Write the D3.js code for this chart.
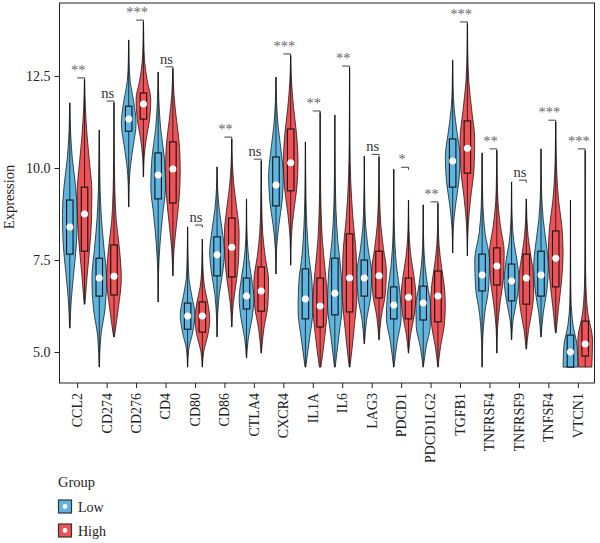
<!DOCTYPE html>
<html>
<head>
<meta charset="utf-8">
<script src="https://cdn.jsdelivr.net/npm/d3@7"></script>
<style>
  body { margin: 0; background: #fff; }
  text { font-family: "Liberation Serif", "Times New Roman", serif; }
</style>
</head>
<body>
<div id="chart"></div>
<script>
const genes = ["CCL2","CD274","CD276","CD4","CD80","CD86","CTLA4","CXCR4","IL1A","IL6",
  "LAG3","PDCD1","PDCD1LG2","TGFB1","TNFRSF4","TNFRSF9","TNFSF4","VTCN1"];
const sigLabels = ["**","ns","***","ns","ns","**","ns","***","**","**","ns","*","**","***","**","ns","***","***"];
const groups = ["Low","High"];
const yTicks = [5.0, 7.5, 10.0, 12.5];

// Low group: min, q1, median, q3, max
const lowMin    = [5.65,4.59,8.94,6.36,4.59,5.41,4.84,7.12,4.59,4.59,5.22,4.59,4.59,7.69,4.59,5.33,5.41,4.59];
const lowQ1     = [7.66,6.52,11.00,9.16,5.62,7.07,6.17,8.97,5.90,6.01,6.52,5.90,5.87,9.48,6.66,6.39,6.52,4.59];
const lowMedian = [8.40,7.01,11.33,9.81,5.98,7.64,6.52,9.54,6.44,6.60,7.01,6.28,6.33,10.19,7.09,6.93,7.09,5.00];
const lowQ3     = [9.13,7.55,11.68,10.41,6.33,8.13,7.01,10.30,7.26,7.55,7.50,6.77,6.79,10.79,7.66,7.39,7.74,5.46];
const lowMax    = [11.77,11.03,13.48,12.61,8.40,10.03,9.16,12.47,10.71,11.44,10.32,9.97,9.00,12.93,10.41,9.62,10.52,9.13];
// relative density, evenly spaced from min to max
const lowDensity = [
  [0.03,0.2,0.55,0.9,1.0,0.8,0.35,0.1,0.02],
  [0.02,0.2,0.8,1.0,0.65,0.3,0.12,0.05,0.02],
  [0.02,0.06,0.25,0.65,1.0,0.7,0.2,0.05,0.01],
  [0.01,0.05,0.25,0.6,1.0,0.85,0.35,0.1,0.01],
  [0.01,0.15,0.7,1.0,0.6,0.2,0.08,0.03,0.01],
  [0.01,0.08,0.3,0.75,1.0,0.7,0.3,0.08,0.01],
  [0.02,0.25,0.75,1.0,0.7,0.3,0.1,0.03,0.01],
  [0.01,0.08,0.4,0.85,1.0,0.7,0.3,0.08,0.01],
  [0.05,0.55,1.0,0.9,0.45,0.2,0.08,0.03,0.01],
  [0.05,0.55,1.0,0.85,0.4,0.15,0.06,0.02,0.01],
  [0.02,0.3,0.85,1.0,0.55,0.2,0.07,0.02,0.01],
  [0.02,0.45,1.0,0.85,0.4,0.15,0.05,0.02,0.01],
  [0.02,0.4,0.95,1.0,0.6,0.25,0.08,0.02,0.01],
  [0.01,0.08,0.4,0.85,1.0,0.6,0.2,0.05,0.01],
  [0.01,0.08,0.35,0.9,1.0,0.4,0.12,0.04,0.01],
  [0.02,0.2,0.7,1.0,0.75,0.3,0.1,0.03,0.01],
  [0.02,0.3,0.8,1.0,0.7,0.3,0.1,0.03,0.01],
  [1.0,0.9,0.35,0.1,0.04,0.02,0.01,0.01,0.005]
];

// High group
const highMin    = [6.30,5.41,9.76,7.07,4.59,5.68,4.97,7.36,4.59,4.59,5.33,4.97,4.59,7.61,4.97,5.08,5.52,4.59];
const highQ1     = [7.74,6.55,11.33,9.05,5.54,7.04,6.11,9.38,5.68,6.09,6.47,5.90,5.82,9.86,6.82,6.30,6.77,4.89];
const highMedian = [8.75,7.06,11.74,9.97,5.98,7.85,6.66,10.14,6.25,7.01,7.07,6.49,6.52,10.54,7.34,7.01,7.55,5.22];
const highQ3     = [9.48,7.91,12.04,10.71,6.36,8.64,7.31,11.06,7.01,8.21,7.74,7.01,7.20,11.28,7.83,7.66,8.29,5.84];
const highMax    = [12.40,11.77,13.97,12.70,8.07,10.79,10.19,13.05,11.50,12.72,10.30,9.13,9.03,13.92,10.47,9.16,11.25,10.47];
const highDensity = [
  [0.05,0.35,0.7,0.95,1.0,0.7,0.35,0.12,0.02],
  [0.05,0.6,1.0,0.75,0.3,0.12,0.05,0.02,0.01],
  [0.02,0.1,0.4,0.85,1.0,0.5,0.15,0.05,0.01],
  [0.02,0.15,0.5,0.85,1.0,0.9,0.5,0.15,0.02],
  [0.01,0.2,0.75,1.0,0.75,0.3,0.1,0.04,0.01],
  [0.02,0.2,0.65,0.95,1.0,0.7,0.3,0.08,0.01],
  [0.02,0.35,0.9,1.0,0.55,0.2,0.08,0.03,0.01],
  [0.01,0.08,0.4,0.85,1.0,0.8,0.4,0.12,0.01],
  [0.1,0.65,1.0,0.7,0.3,0.12,0.05,0.02,0.01],
  [0.05,0.6,1.0,0.9,0.45,0.15,0.05,0.02,0.01],
  [0.02,0.3,0.85,1.0,0.6,0.25,0.1,0.03,0.01],
  [0.02,0.3,0.8,1.0,0.75,0.35,0.12,0.04,0.01],
  [0.02,0.35,0.85,1.0,0.85,0.45,0.15,0.04,0.01],
  [0.01,0.1,0.45,0.9,1.0,0.6,0.2,0.05,0.01],
  [0.01,0.1,0.45,0.9,1.0,0.5,0.15,0.05,0.01],
  [0.03,0.3,0.75,1.0,0.95,0.6,0.25,0.08,0.01],
  [0.05,0.4,0.8,1.0,0.85,0.4,0.15,0.05,0.01],
  [0.9,1.0,0.35,0.1,0.04,0.02,0.01,0.01,0.005]
];

const colors = { Low: "#5DB5E0", High: "#EF5257" };

const width = 600, height = 543;
const plot = { left: 59.5, right: 595.5, top: 3, bottom: 383 };

const svg = d3.select("#chart").append("svg")
  .attr("width", width)
  .attr("height", height);

const x = d3.scalePoint()
  .domain(genes)
  .range([plot.left, plot.right])
  .padding(0.6);

const y = d3.scaleLinear()
  .domain([4.158, 14.484])
  .range([plot.bottom, plot.top]);

const dodge = d3.scaleBand()
  .domain(groups)
  .range([-x.step() * 0.5, x.step() * 0.5]);

const half = dodge.bandwidth() / 2;
const boxW = 6.5;

// build records
const records = [];
genes.forEach((g, i) => {
  records.push({ gene: g, group: "Low", min: lowMin[i], q1: lowQ1[i], med: lowMedian[i], q3: lowQ3[i], max: lowMax[i], dens: lowDensity[i] });
  records.push({ gene: g, group: "High", min: highMin[i], q1: highQ1[i], med: highMedian[i], q3: highQ3[i], max: highMax[i], dens: highDensity[i] });
});
const cx = d => x(d.gene) + dodge(d.group) + half;

// violins
const area = d3.area()
  .curve(d3.curveMonotoneY)
  .y(p => y(p.v))
  .x0(p => p.cx - p.w * half)
  .x1(p => p.cx + p.w * half);

svg.append("g").attr("class", "violins")
  .selectAll("path")
  .data(records)
  .enter()
  .append("path")
  .attr("fill", d => colors[d.group])
  .attr("stroke", "#111")
  .attr("stroke-width", 0.75)
  .attr("d", d => {
    const n = d.dens.length;
    const pts = d.dens.map((w, k) => ({ v: d.min + k * (d.max - d.min) / (n - 1), w: w, cx: cx(d) }));
    return area(pts.reverse());
  });

// boxes
const boxes = svg.append("g").attr("class", "boxes");
boxes.selectAll(".whisker")
  .data(records)
  .enter()
  .append("line")
  .attr("class", "whisker")
  .attr("x1", cx).attr("x2", cx)
  .attr("y1", d => y(d.max)).attr("y2", d => y(d.min))
  .attr("stroke", "#111")
  .attr("stroke-width", 0.8);

boxes.selectAll("rect")
  .data(records)
  .enter()
  .append("rect")
  .attr("x", d => cx(d) - boxW / 2)
  .attr("width", boxW)
  .attr("y", d => y(d.q3))
  .attr("height", d => y(d.q1) - y(d.q3))
  .attr("fill", d => colors[d.group])
  .attr("stroke", "#111")
  .attr("stroke-width", 1.1);

boxes.selectAll(".median")
  .data(records)
  .enter()
  .append("circle")
  .attr("class", "median")
  .attr("cx", cx)
  .attr("cy", d => y(d.med))
  .attr("r", 3.5)
  .attr("fill", "#fff");

// significance
const sig = svg.append("g").attr("class", "sig");
genes.forEach((g, i) => {
  const top = Math.max(lowMax[i], highMax[i]) + 0.05;
  const xc = x(g);
  const xh = x(g) + dodge("High") + half;
  const yb = y(top);
  sig.append("path")
    .attr("d", `M${xc},${yb}H${xh}V${yb + 2.5}`)
    .attr("fill", "none")
    .attr("stroke", "#111")
    .attr("stroke-width", 0.8);
  sig.append("text")
    .attr("x", xc + 1)
    .attr("y", yb - 3)
    .attr("text-anchor", "middle")
    .attr("font-size", "14.5px")
    .attr("fill", sigLabels[i] === "ns" ? "#333" : "#666")
    .text(sigLabels[i]);
});

// panel border
svg.append("rect")
  .attr("x", plot.left)
  .attr("y", plot.top)
  .attr("width", plot.right - plot.left - 1)
  .attr("height", plot.bottom - plot.top)
  .attr("fill", "none")
  .attr("stroke", "#222")
  .attr("stroke-width", 1);

// y axis
const yAxis = svg.append("g")
  .attr("transform", `translate(${plot.left},0)`)
  .call(d3.axisLeft(y).tickValues(yTicks).tickFormat(d3.format(".1f")).tickSize(5).tickPadding(4));
yAxis.select(".domain").remove();
yAxis.selectAll("text").attr("font-size", "14px").attr("fill", "#222")
  .style("font-family", "'Liberation Serif', serif");
yAxis.selectAll("line").attr("stroke", "#222");

// x axis
const xAxis = svg.append("g")
  .attr("transform", `translate(0,${plot.bottom})`)
  .call(d3.axisBottom(x).tickSize(5).tickFormat(""));
xAxis.select(".domain").remove();
xAxis.selectAll("line").attr("stroke", "#222");

svg.append("g").selectAll("text")
  .data(genes)
  .enter()
  .append("text")
  .attr("transform", d => `translate(${x(d)},${plot.bottom + 10}) rotate(-90)`)
  .attr("text-anchor", "end")
  .attr("dy", "0.35em")
  .attr("font-size", "14px")
  .attr("fill", "#222")
  .text(d => d);

// y title
svg.append("text")
  .attr("transform", `translate(14,197) rotate(-90)`)
  .attr("text-anchor", "middle")
  .attr("font-size", "14.5px")
  .attr("fill", "#222")
  .text("Expression");

// legend
const legend = svg.append("g").attr("class", "legend");
legend.append("text")
  .attr("x", 58).attr("y", 487)
  .attr("font-size", "14.5px")
  .attr("fill", "#222")
  .text("Group");
groups.forEach((gname, k) => {
  const ly = 500 + k * 24;
  legend.append("rect")
    .attr("x", 58.5).attr("y", ly)
    .attr("width", 13).attr("height", 13)
    .attr("fill", colors[gname])
    .attr("stroke", "#333")
    .attr("stroke-width", 1.2);
  legend.append("circle")
    .attr("cx", 65).attr("cy", ly + 6.5)
    .attr("r", 2.4)
    .attr("fill", "#fff");
  legend.append("text")
    .attr("x", 78).attr("y", ly + 12)
    .attr("font-size", "14px")
    .attr("fill", "#222")
    .text(gname);
});
</script>
</body>
</html>
